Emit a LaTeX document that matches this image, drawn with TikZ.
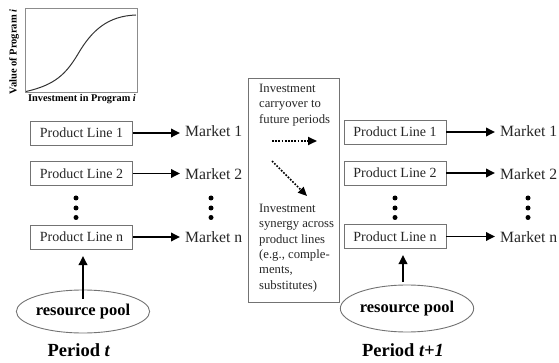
\documentclass[tikz,border=0pt]{standalone}
\usepackage{fontspec}
\setmainfont{Liberation Serif}
\usetikzlibrary{arrows.meta,shapes.geometric}
\begin{document}
\begin{tikzpicture}[x=1pt,y=-1pt,
  plbox/.style={draw=black!55,line width=0.9pt,minimum width=102pt,minimum height=24pt,inner sep=0pt,font=\fontsize{14}{15}\selectfont,text=black!85},
  mkt/.style={anchor=west,inner xsep=5pt,inner ysep=0pt,font=\fontsize{15.7}{17}\selectfont,text=black!85},
  bigarrow/.style={line width=1.8pt,-{Triangle[length=9pt,width=8.5pt]}},
  dotarrow/.style={line width=1.7pt,dash pattern=on 1.7pt off 1.5pt,-{Triangle[length=9pt,width=8pt]}},
  pool/.style={ellipse,draw=black!55,line width=0.9pt,inner sep=0pt,font=\bfseries\fontsize{16.5}{18}\selectfont},
  midtext/.style={anchor=north west,align=left,inner sep=0pt,font=\fontsize{12.7}{15.3}\selectfont,text=black!85},
  period/.style={font=\bfseries\fontsize{18.5}{20}\selectfont},
  vdot/.style={circle,fill=black,inner sep=0pt,minimum size=5pt}]
\useasboundingbox (0,0) rectangle (559,363);
% inset chart
\node[draw=black!45,line width=0.9pt,minimum width=112pt,minimum height=84pt,inner sep=0pt] (chart) at (81,50) {};
\draw[line width=1pt,black!80] (26,91.5) .. controls (55,85) and (66,74) .. (78,54) .. controls (92,30) and (108,16) .. (136,15);
\node[rotate=90,inner sep=0pt,font=\bfseries\fontsize{10.5}{12}\selectfont] (ylab) at (14,52) {Value of Program \textit{i}};
\node[inner sep=0pt,font=\bfseries\fontsize{10.3}{12}\selectfont] (xlab) at (82,99) {Investment in Program \textit{i}};
% left period
\node[plbox] (l1) at (81.5,133) {Product Line 1};
\node[plbox] (l2) at (81.5,173.5) {Product Line 2};
\node[plbox] (ln) at (81.5,237) {Product Line n};
\node[mkt] (m1) at (180,131) {Market 1};
\node[mkt] (m2) at (180,174) {Market 2};
\node[mkt] (mn) at (180,237) {Market n};
\draw[bigarrow] (l1.east) -- (l1.east -| m1.west);
\draw[bigarrow] (l2.east) -- (l2.east -| m2.west);
\draw[bigarrow] (ln.east) -- (ln.east -| mn.west);
\node[vdot] (ld1) at (76,198) {};
\node[vdot] (ld2) at (76,208) {};
\node[vdot] (ld3) at (76,217.5) {};
\node[vdot] (lm1) at (211,198) {};
\node[vdot] (lm2) at (211,208) {};
\node[vdot] (lm3) at (211,217.5) {};
\node[pool,minimum width=116pt,minimum height=43pt] (lp) at (83,311.5) {resource pool};
\draw[bigarrow] ([yshift=-9pt]lp.north) -- (83,256);
\node[period] (pt) at (79,350) {Period \textit{t}};
% middle box
\node[draw=black!55,line width=0.9pt,minimum width=91pt,minimum height=224pt,inner sep=0pt] (mid) at (293.5,190) {};
\node[midtext] (carry) at (259,84) {Investment\\carryover to\\future periods};
\node[midtext] (syn) at (259,204) {Investment\\synergy across\\product lines\\(e.g., comple-\\ments,\\substitutes)};
\coordinate (h1) at (272,141);
\coordinate (h2) at (317,141);
\coordinate (d1) at (272,161);
\coordinate (d2) at (307,196);
\draw[dotarrow] (h1) -- (h2);
\draw[dotarrow] (d1) -- (d2);
% right period
\node[plbox] (r1) at (395,132) {Product Line 1};
\node[plbox] (r2) at (395,173) {Product Line 2};
\node[plbox] (rn) at (395,236.5) {Product Line n};
\node[mkt] (rm1) at (495,131) {Market 1};
\node[mkt] (rm2) at (495,174) {Market 2};
\node[mkt] (rmn) at (495,237) {Market n};
\draw[bigarrow] (r1.east) -- (r1.east -| rm1.west);
\draw[bigarrow] (r2.east) -- (r2.east -| rm2.west);
\draw[bigarrow] (rn.east) -- (rn.east -| rmn.west);
\node[vdot] (rd1) at (395,198) {};
\node[vdot] (rd2) at (395,208) {};
\node[vdot] (rd3) at (395,217.5) {};
\node[vdot] (rmd1) at (528,198) {};
\node[vdot] (rmd2) at (528,208) {};
\node[vdot] (rmd3) at (528,217.5) {};
\node[pool,minimum width=119pt,minimum height=47pt] (rp) at (407,308.5) {resource pool};
\draw[bigarrow] (403,282) -- (403,255);
\node[period] (pt1) at (403,350) {Period \textit{t+1}};
\end{tikzpicture}
\end{document}
